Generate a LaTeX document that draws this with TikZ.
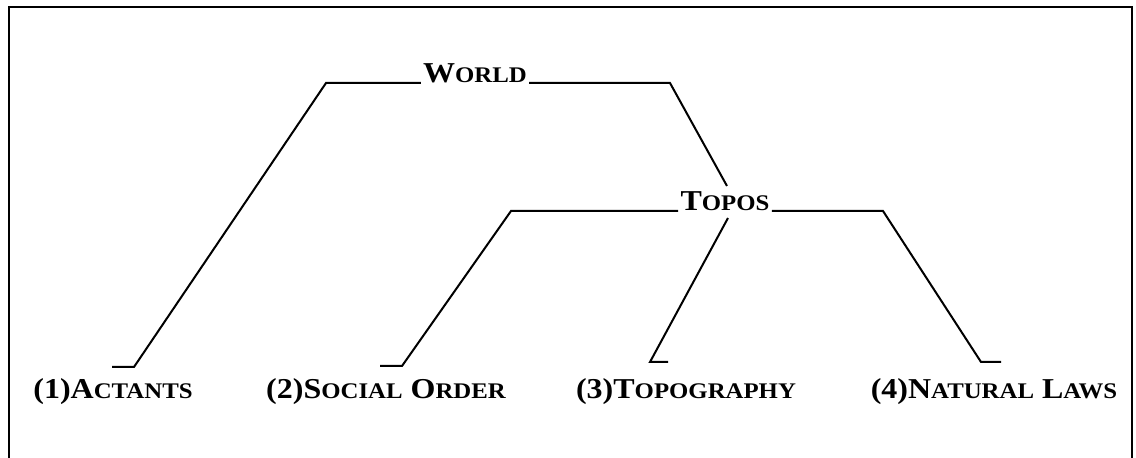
\documentclass[tikz,border=0pt]{standalone}
\usepackage{fontspec}
\setmainfont{Liberation Serif}
\usepackage{tikz}
\usetikzlibrary{positioning}

% fake bold small caps: first letter full size, rest smaller
\newcommand{\fsc}[2]{#1{\fontsize{12.4}{14}\selectfont #2}}

\begin{document}
\begin{tikzpicture}[x=0.5pt, y=-0.5pt, every node/.style={font=\fontsize{16}{18}\selectfont\bfseries, inner sep=1pt, yscale=0.9},
  branch/.style={line width=1pt}]
\useasboundingbox (0,0) rectangle (1136,458);
% frame (open at the bottom)
\draw[line width=1.1pt] (9,458) -- (9,7) -- (1132,7) -- (1132,458);
% top level
\node[anchor=base] (world) at (475,83) {\fsc{W}{ORLD}};
\node[anchor=base] (topos) at (725,211) {\fsc{T}{OPOS}};
% leaves
\node[anchor=base] (actants) at (113,399) {(1)\fsc{A}{CTANTS}};
\node[anchor=base] (social) at (386,399) {(2)\fsc{S}{OCIAL} \fsc{O}{RDER}};
\node[anchor=base] (topo) at (686,399) {(3)\fsc{T}{OPOGRAPHY}};
\node[anchor=base] (laws) at (994,399) {(4)\fsc{N}{ATURAL} \fsc{L}{AWS}};
% bend points
\coordinate (wl) at (326,83);
\coordinate (wr) at (670,83);
\coordinate (wt) at (727,186);
\coordinate (tl) at (511,211);
\coordinate (tr) at (883,211);
\coordinate (tm) at (728,218);
\coordinate (a1) at (134,367);
\coordinate (a0) at (112,367);
\coordinate (s1) at (402,366);
\coordinate (s0) at (380,366);
\coordinate (g1) at (650,362);
\coordinate (g0) at (668,362);
\coordinate (n1) at (981,362);
\coordinate (n0) at (1001,362);
% world branches
\draw[branch] (world.base west) -- (wl) -- (a1) -- (a0);
\draw[branch] (world.base east) -- (wr) -- (wt);
% topos branches
\draw[branch] (topos.base west) -- (tl) -- (s1) -- (s0);
\draw[branch] (tm) -- (g1) -- (g0);
\draw[branch] (topos.base east) -- (tr) -- (n1) -- (n0);
\end{tikzpicture}
\end{document}
